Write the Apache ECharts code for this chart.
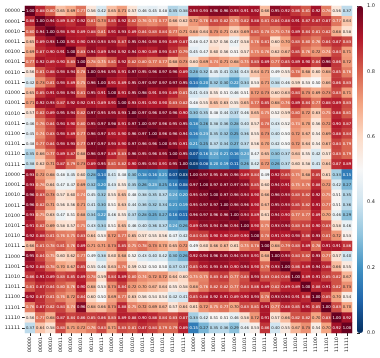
<!DOCTYPE html>
<html>
<head>
<meta charset="utf-8">
<style>
	html, body { margin: 0; padding: 0; background: #fff; }
	#chart { width: 380px; height: 358px; }
</style>
<script src="https://cdn.jsdelivr.net/npm/echarts@6/dist/echarts.min.js"></script>
</head>
<body>
<div id="chart"></div>
<script>
// 类别标签
const categories = ["00000","00001","00010","00011","00100","00101","00110","00111","01000","01001","01010","01011","01100","01101","01110","01111","10000","10001","10010","10011","10100","10101","10110","10111","11000","11001","11010","11011","11100","11101","11110","11111"];

// 相关系数矩阵
const matrix = [
	[1.00,.88,.80,.65,.69,.77,.56,.42,.65,.71,.57,.46,.45,.48,.35,.38,.93,.93,.96,.96,.93,.91,.92,.66,.95,.92,.86,.81,.92,.76,.56,.37],
	[.88,1.00,.94,.89,.87,.92,.81,.73,.85,.92,.82,.76,.74,.77,.66,.62,.72,.76,.83,.82,.75,.82,.88,.81,.84,.88,.91,.87,.87,.87,.77,.64],
	[.80,.94,1.00,.93,.90,.89,.88,.81,.91,.93,.89,.84,.83,.84,.77,.71,.68,.64,.73,.71,.63,.69,.81,.78,.75,.78,.89,.84,.81,.82,.68,.58],
	[.65,.89,.93,1.00,.91,.90,.93,.93,.93,.87,.95,.94,.93,.93,.89,.87,.48,.47,.57,.56,.47,.58,.76,.81,.60,.70,.83,.80,.76,.84,.87,.83],
	[.69,.87,.90,.91,1.00,.83,.94,.89,.94,.92,.94,.90,.89,.93,.87,.79,.45,.47,.60,.56,.51,.57,.75,.76,.62,.67,.85,.76,.72,.74,.84,.71],
	[.77,.92,.89,.90,.83,1.00,.78,.75,.81,.92,.82,.80,.77,.77,.68,.73,.60,.69,.74,.71,.68,.75,.83,.89,.77,.85,.89,.90,.84,.96,.86,.72],
	[.56,.81,.88,.93,.94,.78,1.00,.96,.95,.91,.97,.95,.96,.97,.96,.89,.28,.32,.45,.41,.34,.43,.64,.71,.49,.55,.78,.68,.60,.68,.85,.76],
	[.42,.73,.81,.93,.89,.75,.96,1.00,.91,.89,.95,.97,.97,.97,.97,.95,.14,.20,.32,.30,.22,.34,.53,.71,.38,.46,.59,.53,.50,.66,.86,.83],
	[.65,.85,.91,.93,.94,.81,.95,.91,1.00,.91,.95,.98,.91,.93,.89,.81,.41,.43,.55,.51,.46,.51,.72,.73,.60,.63,.84,.73,.69,.73,.83,.71],
	[.71,.92,.93,.87,.92,.92,.91,.89,.91,1.00,.93,.91,.90,.90,.83,.82,.48,.55,.65,.63,.55,.65,.77,.85,.68,.76,.89,.84,.77,.88,.89,.83],
	[.57,.82,.89,.95,.94,.82,.97,.95,.95,.93,1.00,.97,.96,.97,.96,.90,.30,.35,.48,.44,.37,.46,.65,.75,.52,.59,.80,.72,.63,.75,.88,.81],
	[.46,.76,.84,.94,.90,.80,.95,.97,.98,.91,.97,1.00,.97,.96,.95,.95,.18,.26,.38,.36,.28,.40,.57,.78,.43,.52,.74,.70,.56,.72,.90,.87],
	[.45,.74,.83,.93,.89,.77,.96,.97,.91,.90,.96,.97,1.00,.96,.96,.94,.16,.23,.35,.32,.25,.36,.55,.73,.40,.50,.72,.67,.54,.69,.88,.84],
	[.48,.77,.84,.93,.93,.77,.97,.97,.93,.90,.97,.96,.96,1.00,.95,.91,.21,.25,.37,.34,.27,.37,.56,.70,.42,.50,.72,.64,.54,.67,.84,.79],
	[.35,.66,.77,.89,.87,.68,.96,.97,.89,.83,.96,.95,.96,.95,1.00,.95,.07,.16,.24,.21,.16,.24,.47,.65,.30,.37,.64,.55,.42,.57,.83,.79],
	[.38,.62,.71,.87,.79,.73,.89,.95,.81,.82,.90,.95,.94,.91,.95,1.00,.03,.08,.20,.19,.11,.26,.42,.72,.26,.37,.60,.58,.41,.64,.87,.89],
	[.93,.72,.68,.48,.45,.60,.28,.14,.41,.48,.30,.18,.16,.21,.07,.03,1.00,.97,.95,.95,.96,.89,.84,.49,.92,.85,.75,.68,.85,.61,.33,.15],
	[.93,.76,.64,.47,.47,.69,.32,.20,.43,.55,.35,.26,.23,.25,.16,.08,.97,1.00,.97,.97,.97,.95,.85,.60,.94,.91,.75,.76,.88,.72,.42,.27],
	[.96,.83,.73,.57,.60,.74,.45,.32,.55,.65,.48,.38,.35,.37,.24,.20,.95,.97,1.00,.97,.96,.94,.90,.66,.96,.93,.83,.82,.92,.75,.51,.35],
	[.96,.82,.71,.56,.56,.71,.41,.30,.51,.63,.44,.36,.32,.34,.21,.19,.95,.97,.97,1.00,.96,.96,.90,.67,.95,.93,.85,.82,.91,.77,.51,.36],
	[.93,.75,.63,.47,.51,.68,.34,.22,.46,.55,.37,.28,.25,.27,.16,.11,.96,.97,.96,.96,1.00,.94,.89,.61,.94,.90,.77,.77,.89,.70,.46,.29],
	[.91,.82,.69,.58,.57,.75,.43,.34,.51,.65,.46,.40,.36,.37,.24,.26,.89,.95,.94,.96,.94,1.00,.90,.75,.93,.94,.83,.84,.90,.83,.58,.46],
	[.92,.88,.81,.76,.75,.83,.64,.53,.72,.77,.65,.57,.55,.56,.47,.42,.84,.85,.90,.90,.89,.90,1.00,.78,.91,.90,.93,.86,.93,.81,.72,.53],
	[.66,.81,.78,.81,.76,.89,.71,.71,.73,.85,.75,.78,.73,.70,.65,.72,.49,.60,.66,.67,.61,.75,.78,1.00,.68,.79,.83,.89,.78,.91,.91,.86],
	[.95,.84,.75,.60,.62,.77,.49,.38,.60,.68,.52,.43,.40,.42,.30,.26,.92,.94,.96,.95,.94,.93,.91,.68,1.00,.93,.84,.82,.93,.77,.57,.40],
	[.92,.88,.78,.70,.67,.85,.55,.46,.63,.76,.59,.52,.50,.50,.37,.37,.85,.91,.93,.93,.90,.94,.90,.79,.93,1.00,.86,.89,.94,.88,.66,.55],
	[.86,.91,.89,.83,.85,.89,.78,.59,.84,.89,.80,.74,.72,.72,.64,.60,.75,.75,.83,.85,.77,.83,.93,.83,.84,.86,1.00,.89,.91,.85,.82,.67],
	[.81,.87,.84,.80,.76,.90,.68,.53,.73,.84,.72,.70,.67,.64,.55,.58,.68,.76,.82,.82,.77,.84,.86,.89,.82,.89,.89,1.00,.88,.91,.82,.73],
	[.92,.87,.81,.76,.72,.84,.60,.50,.69,.77,.63,.56,.54,.54,.42,.41,.85,.88,.92,.91,.89,.90,.93,.78,.93,.94,.91,.88,1.00,.85,.70,.54],
	[.76,.87,.82,.84,.74,.96,.68,.66,.73,.88,.75,.72,.69,.67,.57,.64,.61,.72,.75,.77,.70,.83,.81,.91,.77,.88,.85,.91,.85,1.00,.83,.70],
	[.56,.77,.68,.87,.84,.86,.85,.86,.83,.89,.88,.90,.88,.84,.83,.87,.33,.42,.51,.51,.46,.58,.72,.91,.57,.66,.82,.82,.70,.83,1.00,.92],
	[.37,.64,.58,.83,.71,.72,.76,.83,.71,.83,.81,.87,.84,.79,.79,.89,.15,.27,.35,.36,.29,.46,.53,.86,.40,.55,.67,.73,.54,.70,.92,1.00]
];

// RdBu_r 色带
const rdbu = ["#053061","#2166ac","#4393c3","#92c5de","#d1e5f0","#f7f7f7","#fddbc7","#f4a582","#d6604d","#b2182b","#67001f"];
const fontName = "DejaVu Sans";
const inkColor = "#262626";

let cells = [];
matrix.forEach((row, y) => {
	row.forEach((v, x) => {
		cells.push({
			value: [x, y, v],
			label: { color: v < 0.25 || v > 0.73 ? "#fff" : inkColor }
		});
	});
});

let chart = echarts.init(document.getElementById("chart"));
chart.setOption({
	animation: false,
	backgroundColor: "#fff",
	grid: [
		{ left: 25, top: 6, width: 327, height: 327 },
		{ left: 357, top: 6, width: 6, height: 327 }
	],
	xAxis: [
		{
			type: "category",
			gridIndex: 0,
			data: categories,
			position: "bottom",
			axisLine: { show: false },
			axisTick: { show: true, alignWithLabel: true, length: 3, lineStyle: { color: inkColor, width: 1 } },
			axisLabel: { interval: 0, rotate: 90, fontSize: 4.7, margin: 4, color: inkColor, fontFamily: fontName },
			splitLine: { show: false }
		},
		{ type: "value", gridIndex: 1, show: false, min: 0, max: 1 }
	],
	yAxis: [
		{
			type: "category",
			gridIndex: 0,
			data: categories,
			inverse: true,
			axisLine: { show: false },
			axisTick: { show: true, alignWithLabel: true, length: 3, lineStyle: { color: inkColor, width: 1 } },
			axisLabel: { interval: 0, fontSize: 4.8, margin: 5, color: inkColor, fontFamily: fontName },
			splitLine: { show: false }
		},
		{
			// 色条刻度
			type: "value",
			gridIndex: 1,
			position: "right",
			min: 0,
			max: 1,
			interval: 0.2,
			axisLine: { show: false },
			axisTick: { show: true, length: 3, lineStyle: { color: inkColor, width: 1 } },
			axisLabel: { fontSize: 5, margin: 4, color: inkColor, fontFamily: fontName, formatter: v => v.toFixed(1) },
			splitLine: { show: false }
		}
	],
	visualMap: {
		type: "continuous",
		seriesIndex: 0,
		min: 0,
		max: 1,
		calculable: false,
		orient: "vertical",
		left: 357,
		top: 6,
		itemWidth: 6,
		itemHeight: 327,
		padding: 0,
		text: ["", ""],
		textGap: 0,
		inRange: { color: rdbu }
	},
	series: [
		{
			type: "heatmap",
			xAxisIndex: 0,
			yAxisIndex: 0,
			data: cells,
			label: {
				show: true,
				fontSize: 3.8,
				fontFamily: fontName,
				formatter: p => p.value[2].toFixed(2)
			},
			itemStyle: { borderWidth: 0 }
		}
	]
});
</script>
</body>
</html>
